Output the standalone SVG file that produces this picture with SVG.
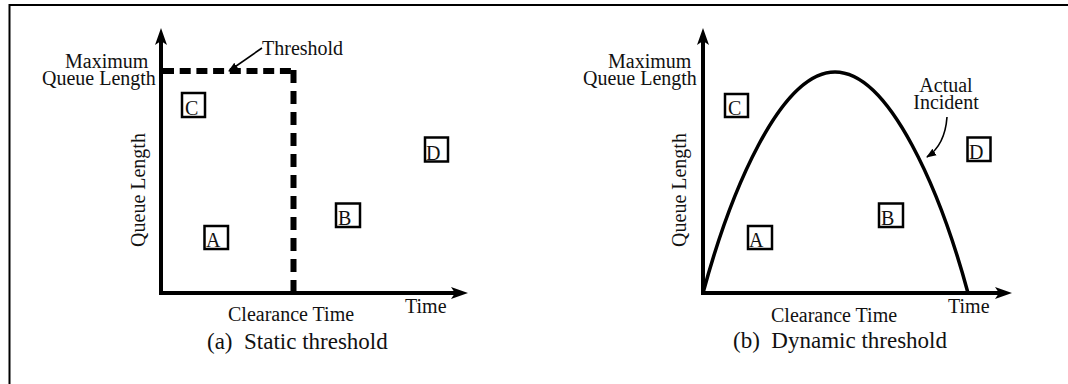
<svg xmlns="http://www.w3.org/2000/svg" width="1068" height="384" viewBox="0 0 1068 384">
  <style>
    text { font-family: "Liberation Serif", "Times New Roman", serif; font-size: 20px; fill: #111; }
    .cap { font-size: 23px; white-space: pre; }
    .mid { text-anchor: middle; }
    .axis { fill: none; stroke: #000; stroke-width: 4; stroke-linejoin: miter; }
    .dash { fill: none; stroke: #000; stroke-width: 6; }
    .thin { fill: none; stroke: #000; stroke-width: 1.6; }
    .curve { fill: none; stroke: #000; stroke-width: 3.5; }
    .box { fill: #fff; stroke: #000; stroke-width: 2.5; }
    .frame { fill: none; stroke: #000; stroke-width: 2; }
  </style>
  <defs>
    <marker id="axisHead" markerUnits="userSpaceOnUse" markerWidth="20" markerHeight="14" viewBox="0 -7 20 14" refX="4" refY="0" orient="auto-start-reverse">
      <path d="M0,-6 L17,0 L0,6 L4,0 Z" fill="#000"/>
    </marker>
    <marker id="smallHead" markerUnits="userSpaceOnUse" markerWidth="12" markerHeight="10" viewBox="0 -5 12 10" refX="9" refY="0" orient="auto">
      <path d="M0,-3.8 L10,0 L0,3.8 Z" fill="#000"/>
    </marker>
  </defs>

  <rect width="1068" height="384" fill="#fff"/>
  <!-- page frame (top and left edges only) -->
  <path class="frame" d="M9.5,384 V5 H1068"/>

  <g id="connectors">
    <!-- panel (a) axes -->
    <path class="axis" d="M161,41 V293 H455" marker-start="url(#axisHead)" marker-end="url(#axisHead)"/>
    <!-- static threshold -->
    <path class="dash" d="M163,71 H296" stroke-dasharray="11 5.7"/>
    <path class="dash" d="M293.5,293 V69" stroke-dasharray="13 8"/>
    <path class="thin" d="M262,48 L229,71" marker-end="url(#smallHead)"/>

    <!-- panel (b) axes -->
    <path class="axis" d="M703,41 V293 H999" marker-start="url(#axisHead)" marker-end="url(#axisHead)"/>
    <!-- actual incident curve -->
    <path class="curve" d="M703,293 C730,193 780,72 835,72 C890,72 941,193 968,293"/>
    <path class="thin" d="M947,117 Q945,145 927,157" marker-end="url(#smallHead)"/>
  </g>

  <g id="panel-a">
    <g id="a-labels">
      <text x="65" y="68">Maximum</text>
      <text x="42" y="85">Queue Length</text>
      <text x="262" y="55">Threshold</text>
      <text class="mid" transform="translate(145,190) rotate(-90)">Queue Length</text>
      <text x="228" y="321">Clearance Time</text>
      <text x="405" y="313">Time</text>
      <text class="cap" x="207" y="349">(a)  Static threshold</text>
    </g>
    <g id="a-C"><rect class="box" x="182" y="93" width="23" height="24"/><text x="185" y="115">C</text></g>
    <g id="a-A"><rect class="box" x="204.5" y="226" width="23.5" height="23"/><text x="206" y="247">A</text></g>
    <g id="a-B"><rect class="box" x="336" y="203.5" width="24" height="23.5"/><text x="338" y="225">B</text></g>
    <g id="a-D"><rect class="box" x="425" y="137.5" width="23" height="24"/><text x="426" y="160">D</text></g>
  </g>

  <g id="panel-b">
    <g id="b-labels">
      <text x="608" y="68">Maximum</text>
      <text x="583" y="85">Queue Length</text>
      <text class="mid" transform="translate(686,190) rotate(-90)">Queue Length</text>
      <text class="mid" x="946" y="92">Actual</text>
      <text class="mid" x="946" y="109">Incident</text>
      <text x="771" y="322">Clearance Time</text>
      <text x="948" y="313">Time</text>
      <text class="cap" x="733" y="348">(b)  Dynamic threshold</text>
    </g>
    <g id="b-C"><rect class="box" x="725" y="94" width="23" height="23"/><text x="728" y="115">C</text></g>
    <g id="b-A"><rect class="box" x="748" y="226" width="24" height="23"/><text x="749" y="247">A</text></g>
    <g id="b-B"><rect class="box" x="879" y="203.5" width="24" height="23.5"/><text x="881" y="225">B</text></g>
    <g id="b-D"><rect class="box" x="967.5" y="137.5" width="23" height="23.5"/><text x="969" y="159">D</text></g>
  </g>
</svg>
